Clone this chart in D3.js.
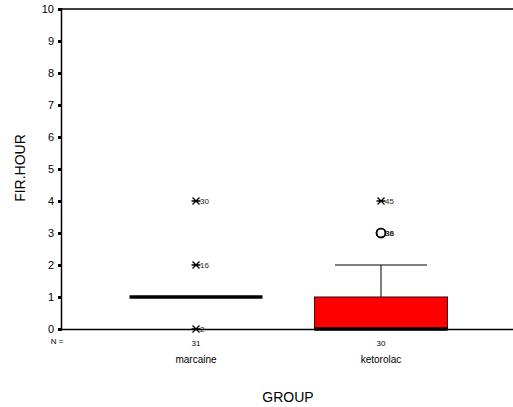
<!DOCTYPE html>
<html><head><meta charset="utf-8">
<script src="https://cdn.jsdelivr.net/npm/d3@7"></script>
<style>body{margin:0;background:#fff}svg{font-family:"Liberation Sans",Arial,sans-serif}</style>
</head><body><svg id="c" width="513" height="407"></svg>
<script>
const groups = ["marcaine", "ketorolac"];
const counts = [31, 30];
// box stats: q1, median, q3, whisker low, whisker high
const q1 = [1, 0];
const medians = [1, 0];
const q3 = [1, 1];
const whiskLo = [1, 0];
const whiskHi = [1, 2];
// outliers
const outGroup = [0, 0, 0, 1, 1, 1];
const outValue = [4, 2, 0, 4, 3, 3];
const outLabel = ["30", "16", "2", "45", "36", "38"];
const outType = ["star", "star", "star", "star", "circle", "circle"];
const yTicks = [0,1,2,3,4,5,6,7,8,9,10];

const svg = d3.select("#c");
const x0 = 61, x1 = 513, yTop = 9, yBot = 329;
const y = d3.scaleLinear().domain([0,10]).range([yBot, yTop]);
const x = d3.scalePoint().domain(groups).range([196, 381]);
const boxW = 133;

svg.append("line").attr("x1",x0).attr("x2",x1).attr("y1",yTop).attr("y2",yTop).attr("stroke","#000").attr("stroke-width",1.5);
svg.append("line").attr("x1",x0).attr("x2",x1).attr("y1",yBot+0.5).attr("y2",yBot+0.5).attr("stroke","#000").attr("stroke-width",1.5);

const ya = svg.append("g").attr("transform",`translate(${x0},0)`)
  .call(d3.axisLeft(y).tickValues(yTicks).tickSize(3).tickPadding(4).tickFormat(d3.format("d")));
ya.select(".domain").attr("stroke","#000").attr("stroke-width",1.5);
ya.selectAll(".tick line").attr("stroke","#000").attr("stroke-width",3).attr("x2",1).attr("x1",-3);
ya.selectAll("text").attr("font-size",11).attr("fill","#000").attr("font-family","Liberation Sans, Arial");

svg.append("text").attr("transform",`translate(25,168) rotate(-90)`)
  .attr("text-anchor","middle").attr("font-size",14).text("FIR.HOUR");

groups.forEach((g,i)=>{
  const cx = x(g);
  if (whiskHi[i] > q3[i]) {
    svg.append("line").attr("x1",cx).attr("x2",cx).attr("y1",y(q3[i])).attr("y2",y(whiskHi[i])).attr("stroke","#000").attr("stroke-width",1);
    svg.append("line").attr("x1",cx-46).attr("x2",cx+46).attr("y1",y(whiskHi[i])).attr("y2",y(whiskHi[i])).attr("stroke","#000").attr("stroke-width",1);
  }
  if (q3[i] > q1[i]) {
    svg.append("rect").attr("x",cx-boxW/2).attr("width",boxW).attr("y",y(q3[i])).attr("height",y(q1[i])-y(q3[i]))
      .attr("fill","#ff0000").attr("stroke","#3a0000").attr("stroke-width",1);
  }
  svg.append("line").attr("x1",cx-boxW/2).attr("x2",cx+boxW/2).attr("y1",y(medians[i])).attr("y2",y(medians[i]))
    .attr("stroke","#000").attr("stroke-width",3.5);
  svg.append("text").attr("x",cx).attr("y",346).attr("text-anchor","middle").attr("font-size",8).text(counts[i]);
  svg.append("text").attr("x",cx).attr("y",363).attr("text-anchor","middle").attr("font-size",10).text(g);
});
svg.append("text").attr("x",57).attr("y",344).attr("text-anchor","middle").attr("font-size",8).text("N =");

outValue.forEach((v,k)=>{
  const cx = x(groups[outGroup[k]]), cy = y(v);
  if (outType[k]==="star") {
    const s = 3.5;
    svg.append("path").attr("d",`M${cx-s},${cy-s}L${cx+s},${cy+s}M${cx-s},${cy+s}L${cx+s},${cy-s}M${cx-4.5},${cy}L${cx+4.5},${cy}`)
      .attr("stroke","#000").attr("stroke-width",1.3);
  } else {
    svg.append("circle").attr("cx",cx).attr("cy",cy).attr("r",4.5).attr("fill","none").attr("stroke","#000").attr("stroke-width",1.6);
  }
  svg.append("text").attr("x",cx+4).attr("y",cy+3).attr("font-size",8).attr("fill","#222").text(outLabel[k]);
});

svg.append("text").attr("x",288).attr("y",402).attr("text-anchor","middle").attr("font-size",14).text("GROUP");
</script></body></html>
